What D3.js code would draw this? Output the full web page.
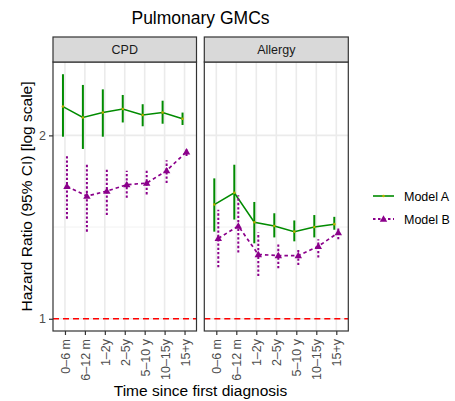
<!DOCTYPE html>
<html>
<head>
<meta charset="utf-8">
<script src="https://cdn.jsdelivr.net/npm/d3@7"></script>
<style>
  body { margin: 0; background: #fff; }
  svg { display: block; font-family: "Liberation Sans", Arial, sans-serif; }
</style>
</head>
<body>
<svg id="chart" width="455" height="401"></svg>
<script>
// Time windows since first diagnosis
const periods = ["0\u20136 m", "6\u201312 m", "1\u20132y", "2\u20135y", "5\u201310 y", "10\u201315y", "15+y"];
const panels = ["CPD", "Allergy"];
const models = ["Model A", "Model B"];

// Hazard ratios with 95% confidence limits, one array per panel and model
const cpdA    = [2.23, 2.14, 2.18, 2.21, 2.16, 2.18, 2.13];
const cpdALo  = [1.99, 1.90, 1.99, 2.10, 2.07, 2.09, 2.08];
const cpdAHi  = [2.52, 2.42, 2.38, 2.33, 2.25, 2.28, 2.18];
const cpdB    = [1.65, 1.59, 1.62, 1.66, 1.67, 1.75, 1.88];
const cpdBLo  = [1.46, 1.39, 1.48, 1.58, 1.60, 1.67, 1.85];
const cpdBHi  = [1.86, 1.79, 1.77, 1.75, 1.75, 1.82, 1.91];
const allA    = [1.54, 1.61, 1.44, 1.42, 1.39, 1.415, 1.43];
const allALo  = [1.39, 1.455, 1.33, 1.36, 1.34, 1.36, 1.40];
const allAHi  = [1.70, 1.79, 1.555, 1.49, 1.45, 1.48, 1.47];
const allB    = [1.355, 1.42, 1.275, 1.27, 1.27, 1.315, 1.385];
const allBLo  = [1.215, 1.285, 1.175, 1.21, 1.225, 1.26, 1.35];
const allBHi  = [1.51, 1.595, 1.385, 1.33, 1.305, 1.35, 1.41];
const yTicks = [1, 2];
const refLine = 1;

const series = {
  "CPD":     { "Model A": [cpdA, cpdALo, cpdAHi], "Model B": [cpdB, cpdBLo, cpdBHi] },
  "Allergy": { "Model A": [allA, allALo, allAHi], "Model B": [allB, allBLo, allBHi] }
};

const colors = { "Model A": "#008B00", "Model B": "#8B008B" };
const dodge = { "Model A": -2, "Model B": 2 };

const svg = d3.select("#chart");

const panelTop = 62, panelBottom = 331;
const stripTop = 37;
const panelX = [[53, 196.5], [204.3, 348.3]];

// log y-scale with 5% expansion on the log range, like ggplot's default
const allVals = [refLine].concat(cpdALo, cpdAHi, cpdBLo, cpdBHi, allALo, allAHi, allBLo, allBHi);
const lmin = Math.log(d3.min(allVals)), lmax = Math.log(d3.max(allVals));
const pad = (lmax - lmin) * 0.05;
const y = d3.scaleLog()
  .domain([Math.exp(lmin - pad), Math.exp(lmax + pad)])
  .range([panelBottom, panelTop]);

// title
svg.append("text")
  .attr("x", 200.5).attr("y", 24)
  .attr("text-anchor", "middle")
  .attr("font-size", 17.5)
  .attr("fill", "#000")
  .text("Pulmonary GMCs");

panels.forEach((p, pi) => {
  const [x0, x1] = panelX[pi];
  const x = d3.scalePoint().domain(periods).range([x0, x1]).padding(0.6);
  const g = svg.append("g");

  // panel background
  g.append("rect").attr("x", x0).attr("y", panelTop)
    .attr("width", x1 - x0).attr("height", panelBottom - panelTop)
    .attr("fill", "#fff");

  // minor grid lines (geometric midpoints between major breaks)
  const minor = [Math.sqrt(2)];
  g.selectAll(".minor").data(minor).join("line")
    .attr("x1", x0).attr("x2", x1)
    .attr("y1", d => y(d)).attr("y2", d => y(d))
    .attr("stroke", "#f2f2f2").attr("stroke-width", 1);

  // major grid lines
  g.selectAll(".hmaj").data(yTicks).join("line")
    .attr("x1", x0).attr("x2", x1)
    .attr("y1", d => y(d)).attr("y2", d => y(d))
    .attr("stroke", "#ebebeb").attr("stroke-width", 1.6);
  g.selectAll(".vmaj").data(periods).join("line")
    .attr("x1", d => x(d)).attr("x2", d => x(d))
    .attr("y1", panelTop).attr("y2", panelBottom)
    .attr("stroke", "#ebebeb").attr("stroke-width", 1.6);

  // reference line at HR = 1
  g.append("line")
    .attr("x1", x0).attr("x2", x1)
    .attr("y1", y(refLine)).attr("y2", y(refLine))
    .attr("stroke", "#ff0000").attr("stroke-width", 1.6)
    .attr("stroke-dasharray", "6,4");

  models.forEach(m => {
    const [est, lo, hi] = series[p][m];
    const col = colors[m];
    const pts = periods.map((d, i) => ({ x: x(d) + dodge[m], est: est[i], lo: lo[i], hi: hi[i] }));

    // error bars
    g.selectAll(null).data(pts).join("line")
      .attr("x1", d => d.x).attr("x2", d => d.x)
      .attr("y1", d => y(d.lo)).attr("y2", d => y(d.hi))
      .attr("stroke", col).attr("stroke-width", 2)
      .attr("stroke-dasharray", m === "Model B" ? "2.3,2" : null);

    // connecting line
    const line = d3.line().x(d => d.x).y(d => y(d.est));
    g.append("path").datum(pts).attr("d", line)
      .attr("fill", "none").attr("stroke", col)
      .attr("stroke-width", m === "Model B" ? 1.7 : 1.5)
      .attr("stroke-dasharray", m === "Model B" ? "3.5,3" : null);

    // point markers
    if (m === "Model A") {
      g.selectAll(null).data(pts).join("circle")
        .attr("cx", d => d.x).attr("cy", d => y(d.est)).attr("r", 1.3)
        .attr("fill", "#b9b000");
    } else {
      g.selectAll(null).data(pts).join("path")
        .attr("transform", d => `translate(${d.x},${y(d.est) + 0.5})`)
        .attr("d", d3.symbol().type(d3.symbolTriangle).size(24))
        .attr("fill", col);
    }
  });

  // panel border
  g.append("rect").attr("x", x0).attr("y", panelTop)
    .attr("width", x1 - x0).attr("height", panelBottom - panelTop)
    .attr("fill", "none").attr("stroke", "#333").attr("stroke-width", 1.2);

  // strip
  g.append("rect").attr("x", x0).attr("y", stripTop)
    .attr("width", x1 - x0).attr("height", panelTop - stripTop)
    .attr("fill", "#d9d9d9").attr("stroke", "#333").attr("stroke-width", 1.2);
  g.append("text").attr("x", (x0 + x1) / 2).attr("y", (stripTop + panelTop) / 2)
    .attr("dy", "0.36em").attr("text-anchor", "middle")
    .attr("font-size", 12.5).attr("fill", "#1a1a1a").text(p);

  // x axis
  const xAxis = g.append("g").attr("transform", `translate(0,${panelBottom})`)
    .call(d3.axisBottom(x).tickSize(4).tickPadding(4));
  xAxis.select(".domain").remove();
  xAxis.selectAll(".tick line").attr("stroke", "#333").attr("stroke-width", 1.2);
  xAxis.selectAll(".tick text")
    .attr("font-size", 12.5).attr("fill", "#4d4d4d")
    .attr("font-family", "Liberation Sans, Arial, sans-serif")
    .attr("transform", "rotate(-90)")
    .attr("text-anchor", "end")
    .attr("x", -8).attr("y", 0).attr("dy", "0.36em");

  // y axis on the first panel only
  if (pi === 0) {
    const yAxis = g.append("g").attr("transform", `translate(${x0},0)`)
      .call(d3.axisLeft(y).tickValues(yTicks).tickFormat(d3.format("d")).tickSize(4).tickPadding(3));
    yAxis.select(".domain").remove();
    yAxis.selectAll(".tick line").attr("stroke", "#333").attr("stroke-width", 1.2);
    yAxis.selectAll(".tick text").attr("font-size", 12.5).attr("fill", "#4d4d4d")
      .attr("font-family", "Liberation Sans, Arial, sans-serif");
  }
});

// axis titles
svg.append("text")
  .attr("x", 200.5).attr("y", 396)
  .attr("text-anchor", "middle").attr("font-size", 15.5).attr("fill", "#000")
  .text("Time since first diagnosis");
svg.append("text")
  .attr("transform", `translate(32,${(panelTop + panelBottom) / 2}) rotate(-90)`)
  .attr("text-anchor", "middle").attr("font-size", 15.5).attr("fill", "#000")
  .text("Hazard Ratio (95% CI) [log scale]");

// legend
const legend = svg.append("g");
models.forEach((m, i) => {
  const ly = 196 + i * 23;
  const col = colors[m];
  legend.append("line").attr("x1", 373).attr("x2", 394).attr("y1", ly).attr("y2", ly)
    .attr("stroke", col).attr("stroke-width", m === "Model B" ? 1.8 : 1.6)
    .attr("stroke-dasharray", m === "Model B" ? "2.5,2.5" : null);
  if (m === "Model A") {
    legend.append("circle").attr("cx", 383.5).attr("cy", ly).attr("r", 1.3).attr("fill", "#b9b000");
  } else {
    legend.append("path").attr("transform", `translate(383.5,${ly + 0.5})`)
      .attr("d", d3.symbol().type(d3.symbolTriangle).size(24)).attr("fill", col);
  }
  legend.append("text").attr("x", 404).attr("y", ly).attr("dy", "0.36em")
    .attr("font-size", 12.5).attr("fill", "#000").text(m);
});
</script>
</body>
</html>
